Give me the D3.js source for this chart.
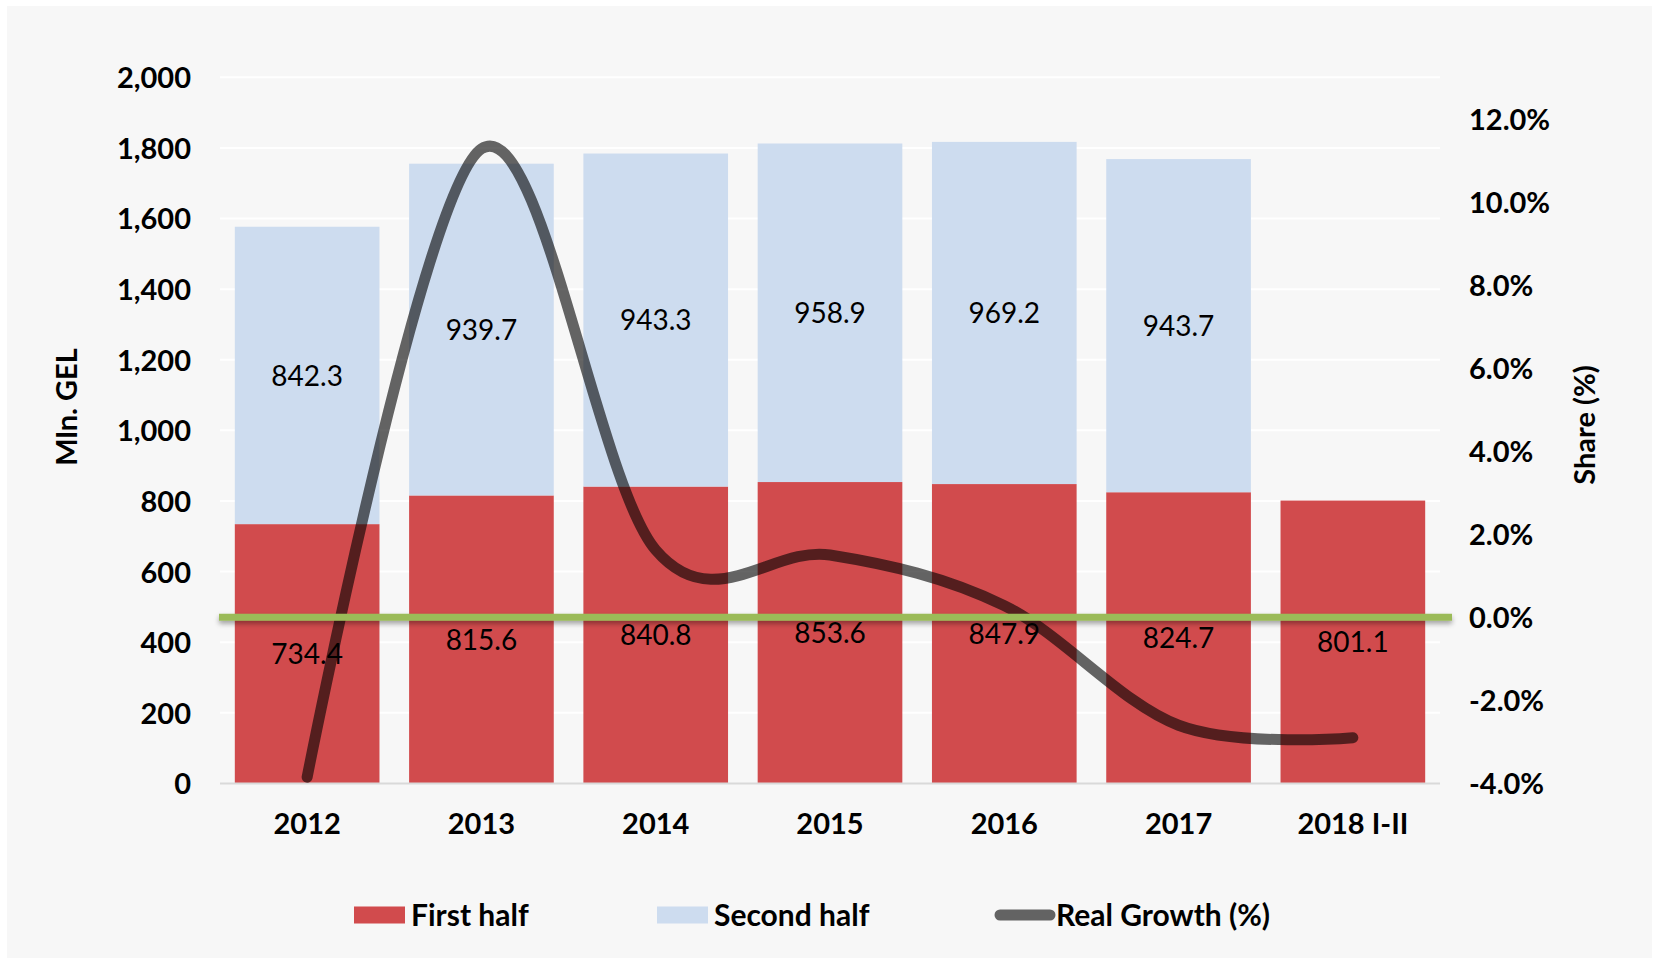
<!DOCTYPE html>
<html>
<head>
<meta charset="utf-8">
<script src="https://cdnjs.cloudflare.com/ajax/libs/d3/7.8.5/d3.min.js"></script>
<style>
    body { margin: 0; background: #fff; }
    svg text { font-family: Lato, "Open Sans", sans-serif; fill: #000; }
</style>
</head>
<body>
<svg id="chart" width="1660" height="964"></svg>
<script>
// values
var years = ["2012", "2013", "2014", "2015", "2016", "2017", "2018 I-II"];
var firstHalf = [734.4, 815.6, 840.8, 853.6, 847.9, 824.7, 801.1];
var secondHalf = [842.3, 939.7, 943.3, 958.9, 969.2, 943.7, null];
var realGrowth = [-3.85, 11.28, 1.62, 1.5, 0.28, -2.6, -2.9];   // %
var leftTicks = [0, 200, 400, 600, 800, 1000, 1200, 1400, 1600, 1800, 2000];
var rightTicks = [-4, -2, 0, 2, 4, 6, 8, 10, 12];

var svg = d3.select("#chart"),
    plotLeft = 220, plotRight = 1440,
    plotTop = 77.3, plotBottom = 783.4,
    fs = 28,      // data labels
    fsAxis = 29,  // tick labels and titles
    fsLeg = 30;

var x = d3.scaleBand().domain(years)
        .range([plotLeft, plotRight])
        .paddingInner(0.17).paddingOuter(0.085),
    y = d3.scaleLinear().domain([0, 2000]).range([plotBottom, plotTop]),
    y2 = d3.scaleLinear().domain([-4, 13]).range([plotBottom, plotTop]);

var defs = svg.append("defs");
defs.append("filter").attr("id", "shadow")
    .attr("filterUnits", "userSpaceOnUse")
    .attr("x", 0).attr("y", 0).attr("width", 1660).attr("height", 964)
    .append("feDropShadow")
    .attr("dx", 0).attr("dy", 3).attr("stdDeviation", 2.5)
    .attr("flood-color", "#000").attr("flood-opacity", 0.35);

// panel
svg.append("rect").attr("x", 7).attr("y", 6)
    .attr("width", 1645).attr("height", 952).attr("fill", "#f7f7f7");

// gridlines
svg.append("g").selectAll("line").data(leftTicks.filter(function (d) { return d > 0; }))
    .join("line")
    .attr("x1", plotLeft).attr("x2", plotRight)
    .attr("y1", function (d) { return y(d); }).attr("y2", function (d) { return y(d); })
    .attr("stroke", "#ffffff").attr("stroke-width", 2);

var rows = years.map(function (yr, i) {
    return {year: yr, first: firstHalf[i], second: secondHalf[i], growth: realGrowth[i]};
});

// bars
svg.append("g").selectAll("rect").data(rows).join("rect")
    .attr("x", function (d) { return x(d.year); })
    .attr("width", x.bandwidth())
    .attr("y", function (d) { return y(d.first); })
    .attr("height", function (d) { return y(0) - y(d.first); })
    .attr("fill", "#d14b4d");

svg.append("g").selectAll("rect").data(rows.filter(function (d) { return d.second != null; })).join("rect")
    .attr("x", function (d) { return x(d.year); })
    .attr("width", x.bandwidth())
    .attr("y", function (d) { return y(d.first + d.second); })
    .attr("height", function (d) { return y(d.first) - y(d.first + d.second); })
    .attr("fill", "#cddcef");

// base line
svg.append("line")
    .attr("x1", plotLeft).attr("x2", plotRight)
    .attr("y1", y(0)).attr("y2", y(0))
    .attr("stroke", "#d9d9d9").attr("stroke-width", 2);

// axes
function styleAxis(g) {
    g.select(".domain").remove();
    g.attr("font-size", fsAxis).attr("font-weight", "bold").attr("font-family", null);
}

svg.append("g").attr("transform", "translate(191,0)")
    .call(d3.axisLeft(y).tickValues(leftTicks).tickSize(0).tickPadding(0).tickFormat(d3.format(",")))
    .call(styleAxis)
    .selectAll("text").attr("dy", "0.36em");

svg.append("g").attr("transform", "translate(1469,0)")
    .call(d3.axisRight(y2).tickValues(rightTicks).tickSize(0).tickPadding(0)
        .tickFormat(function (d) { return d.toFixed(1) + "%"; }))
    .call(styleAxis)
    .selectAll("text").attr("dy", "0.36em");

svg.append("g").attr("transform", "translate(0," + plotBottom + ")")
    .call(d3.axisBottom(x).tickSize(0).tickPadding(30))
    .call(styleAxis);

// real growth line, smoothed like excel
var line = d3.line()
    .x(function (d) { return x(d.year) + x.bandwidth() / 2; })
    .y(function (d) { return y2(d.growth); })
    .curve(d3.curveCardinal.tension(0));

svg.append("path").datum(rows)
    .attr("d", line)
    .attr("fill", "none")
    .attr("stroke", "#000").attr("stroke-opacity", 0.6)
    .attr("stroke-width", 11)
    .attr("stroke-linecap", "round").attr("stroke-linejoin", "round");

// data labels in the middle of each segment
var labels = svg.append("g").attr("font-size", fs).attr("text-anchor", "middle");
labels.selectAll("text.first").data(rows).join("text").attr("class", "first")
    .attr("x", function (d) { return x(d.year) + x.bandwidth() / 2; })
    .attr("y", function (d) { return (y(0) + y(d.first)) / 2; })
    .attr("dy", "0.36em")
    .text(function (d) { return d.first.toFixed(1); });
labels.selectAll("text.second").data(rows.filter(function (d) { return d.second != null; })).join("text")
    .attr("class", "second")
    .attr("x", function (d) { return x(d.year) + x.bandwidth() / 2; })
    .attr("y", function (d) { return (y(d.first) + y(d.first + d.second)) / 2; })
    .attr("dy", "0.36em")
    .text(function (d) { return d.second.toFixed(1); });

// zero line on the right axis
svg.append("line")
    .attr("x1", plotLeft - 1).attr("x2", plotRight + 12)
    .attr("y1", y2(0)).attr("y2", y2(0))
    .attr("stroke", "#9bbb59").attr("stroke-width", 7)
    .attr("filter", "url(#shadow)");

// axis titles
svg.append("text")
    .attr("transform", "translate(67,407) rotate(-90)")
    .attr("text-anchor", "middle").attr("dy", "0.36em")
    .attr("font-size", fsAxis).attr("font-weight", "bold")
    .text("Mln. GEL");
svg.append("text")
    .attr("transform", "translate(1585,425) rotate(-90)")
    .attr("text-anchor", "middle").attr("dy", "0.36em")
    .attr("font-size", fsAxis).attr("font-weight", "bold")
    .text("Share (%)");

// legend
var legY = 915;
var leg = svg.append("g").attr("font-size", fsLeg).attr("font-weight", "bold");
leg.append("rect").attr("x", 354).attr("y", legY - 8.5).attr("width", 51).attr("height", 17).attr("fill", "#d14b4d");
leg.append("text").attr("x", 411).attr("y", legY).attr("dy", "0.36em").text("First half");
leg.append("rect").attr("x", 657).attr("y", legY - 8.5).attr("width", 51).attr("height", 17).attr("fill", "#cddcef");
leg.append("text").attr("x", 714).attr("y", legY).attr("dy", "0.36em").text("Second half");
leg.append("line").attr("x1", 1000).attr("x2", 1050).attr("y1", legY).attr("y2", legY)
    .attr("stroke", "#000").attr("stroke-opacity", 0.6).attr("stroke-width", 11).attr("stroke-linecap", "round");
leg.append("text").attr("x", 1056).attr("y", legY).attr("dy", "0.36em").text("Real Growth (%)");
</script>
</body>
</html>
